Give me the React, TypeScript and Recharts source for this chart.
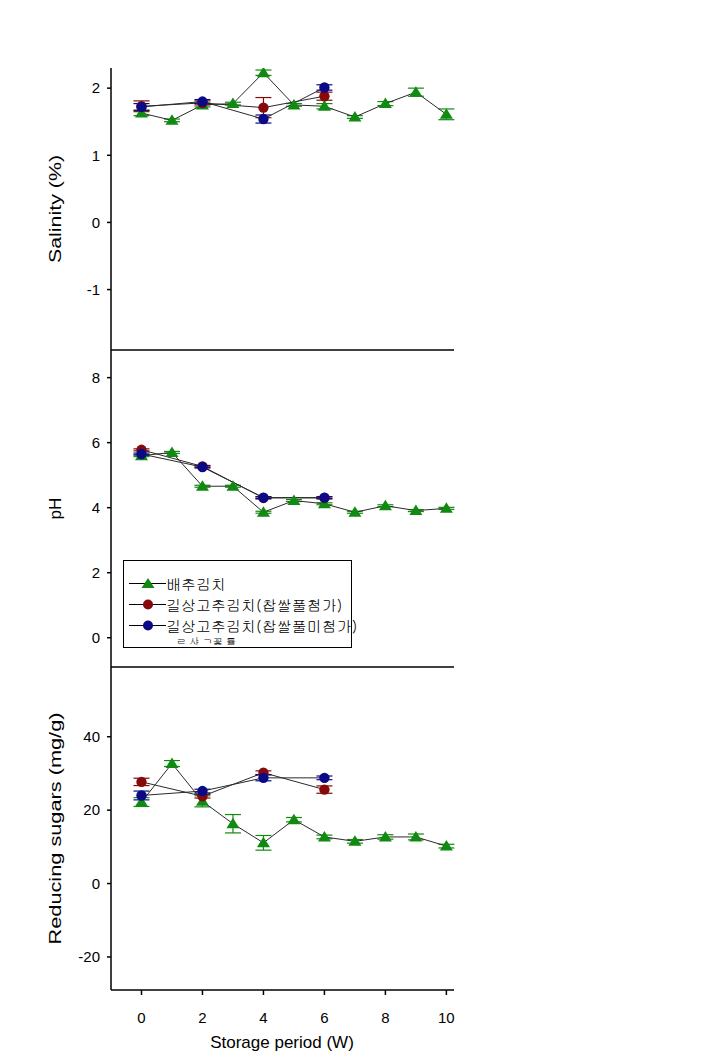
import { ErrorBar, Legend, Line, LineChart, XAxis, YAxis } from "recharts"

// storage weeks
const weeks = [0, 1, 2, 3, 4, 5, 6, 7, 8, 9, 10]
const weeksShort = [0, 2, 4, 6]
const xTicks = [0, 2, 4, 6, 8, 10]

const seriesNames = ["배추김치", "길상고추김치(찹쌀풀첨가)", "길상고추김치(찹쌀풀미첨가)"]
const seriesColors = ["#108a10", "#860a0a", "#0a0a86"]

// Salinity (%)
const salCabbage = [1.63, 1.52, 1.75, 1.77, 2.23, 1.75, 1.73, 1.57, 1.77, 1.94, 1.61]
const salCabbageErr = [0.04, 0.02, 0.03, 0.02, 0.04, 0.02, 0.04, 0.02, 0.03, 0.06, 0.08]
const salWith = [1.73, 1.78, 1.71, 1.88]
const salWithErr = [0.08, 0.03, 0.15, 0.06]
const salWithout = [1.72, 1.8, 1.54, 2.01]
const salWithoutErr = [0.05, 0.03, 0.06, 0.04]
const salTicks = [-1, 0, 1, 2]

// pH
const phCabbage = [5.6, 5.7, 4.66, 4.66, 3.86, 4.22, 4.12, 3.86, 4.06, 3.91, 3.98]
const phCabbageErr = [0.03, 0.03, 0.03, 0.03, 0.03, 0.03, 0.03, 0.03, 0.03, 0.03, 0.03]
const phWith = [5.78, 5.27, 4.3, 4.3]
const phWithErr = [0.03, 0.03, 0.03, 0.03]
const phWithout = [5.65, 5.25, 4.31, 4.31]
const phWithoutErr = [0.03, 0.03, 0.03, 0.03]
const phTicks = [0, 2, 4, 6, 8]

// Reducing sugars (mg/g)
const sugCabbage = [22.2, 32.7, 22.4, 16.3, 11.1, 17.4, 12.7, 11.5, 12.7, 12.7, 10.2]
const sugCabbageErr = [1.2, 0.8, 1.5, 2.5, 2, 0.6, 0.5, 0.5, 0.6, 0.8, 0.5]
const sugWith = [27.7, 23.8, 30.2, 25.6]
const sugWithErr = [1, 0.5, 0.5, 1]
const sugWithout = [24.0, 25.2, 28.8, 28.8]
const sugWithoutErr = [1.2, 0.5, 0.8, 0.5]
const sugTicks = [-20, 0, 20, 40]

const font = "Arial, 'Liberation Sans', sans-serif"
const krFont = "Gulim, 'Noto Sans CJK KR', sans-serif"

const toRows = (xs: number[], ys: number[], es: number[]) =>
  xs.map((x, i) => ({ x, y: ys[i], e: es[i] }))

const triangleDot = (color: string) => (props: any) => {
  const { cx, cy } = props
  if (cx == null || cy == null) return <g key={`t-${props.index}`} />
  return (
    <polygon
      key={`t-${props.index}`}
      points={`${cx},${cy - 6} ${cx - 6.5},${cy + 4.5} ${cx + 6.5},${cy + 4.5}`}
      fill={color}
    />
  )
}

const circleDot = (color: string) => (props: any) => {
  const { cx, cy } = props
  if (cx == null || cy == null) return <g key={`c-${props.index}`} />
  return <circle key={`c-${props.index}`} cx={cx} cy={cy} r={5.2} fill={color} />
}

function VLabel({ x, y, text, len }: { x: number, y: number, text: string, len?: number }) {
  return (
    <text
      x={x}
      y={y}
      transform={`rotate(-90 ${x} ${y})`}
      textAnchor="middle"
      dominantBaseline="central"
      fontSize={17}
      fontFamily={font}
      fill="#000"
      textLength={len}
      lengthAdjust={len ? "spacingAndGlyphs" : undefined}
    >
      {text}
    </text>
  )
}

function XLabel() {
  return (
    <text x={282} y={381} textAnchor="middle" fontSize={17} fontFamily={font} fill="#000">
      Storage period (W)
    </text>
  )
}

function LegendBox() {
  return (
    <div
      style={{
        position: "relative",
        width: 229,
        height: 88,
        border: "1px solid #000",
        boxSizing: "border-box",
        background: "#fff",
        fontFamily: krFont,
        fontSize: 15,
      }}
    >
      {seriesNames.map((name, i) => (
        <div key={name} style={{ position: "absolute", left: 4, top: 13 + i * 21, height: 19, display: "flex", alignItems: "center" }}>
          <svg width={38} height={19}>
            <line x1={1} y1={9.5} x2={38} y2={9.5} stroke="#000" strokeWidth={1} />
            {i === 0 ? (
              <polygon points="20,4 13.5,14 26.5,14" fill={seriesColors[0]} />
            ) : (
              <circle cx={20} cy={9.5} r={5} fill={seriesColors[i]} />
            )}
          </svg>
          <span style={{ whiteSpace: "nowrap", lineHeight: "19px" }}>{name}</span>
        </div>
      ))}
      <div style={{ position: "absolute", left: 52, top: 75, fontSize: 10, lineHeight: "10px", whiteSpace: "nowrap", color: "#111" }}>
        ㄹ 샤 ㄱ꽃 률
      </div>
    </div>
  )
}

const tickStyle = { fill: "#000", fontSize: 15, fontFamily: font }
const axisStroke = { stroke: "#000", strokeWidth: 1.5 }

function Panel({
  height,
  marginTop,
  domain,
  ticks,
  cabbage,
  withRice,
  withoutRice,
  yLabel,
  bottom,
  legend,
}: {
  height: number
  marginTop: number
  domain: [number, number]
  ticks: number[]
  cabbage: any[]
  withRice: any[]
  withoutRice: any[]
  yLabel: any
  bottom?: boolean
  legend?: boolean
}) {
  return (
    <LineChart width={727} height={height} margin={{ top: marginTop, right: 273, bottom: 0, left: 0 }}>
      <XAxis
        type="number"
        dataKey="x"
        domain={[-1, 10.25]}
        ticks={xTicks}
        allowDataOverflow
        height={bottom ? 72 : 1}
        tick={bottom ? tickStyle : false}
        tickLine={bottom ? axisStroke : false}
        axisLine={axisStroke}
        tickSize={5}
        tickMargin={17}
        label={bottom ? <XLabel /> : undefined}
      />
      <YAxis
        type="number"
        domain={domain}
        ticks={ticks}
        allowDataOverflow
        width={111}
        tick={tickStyle}
        tickLine={axisStroke}
        axisLine={axisStroke}
        tickSize={4}
        tickMargin={7}
        label={yLabel}
      />
      {legend && (
        <Legend
          layout="horizontal"
          verticalAlign="middle"
          align="center"
          content={() => <LegendBox />}
          wrapperStyle={{ position: "absolute", left: 123, top: 210, width: 229, height: 88 }}
        />
      )}
      <Line
        data={cabbage}
        dataKey="y"
        name={seriesNames[0]}
        stroke="#2a2a2a"
        strokeWidth={1}
        dot={triangleDot(seriesColors[0])}
        activeDot={false}
        isAnimationActive={false}
      >
        <ErrorBar dataKey="e" width={8} stroke={seriesColors[0]} strokeWidth={1.2} isAnimationActive={false} />
      </Line>
      <Line
        data={withRice}
        dataKey="y"
        name={seriesNames[1]}
        stroke="#2a2a2a"
        strokeWidth={1}
        dot={circleDot(seriesColors[1])}
        activeDot={false}
        isAnimationActive={false}
      >
        <ErrorBar dataKey="e" width={8} stroke={seriesColors[1]} strokeWidth={1.2} isAnimationActive={false} />
      </Line>
      <Line
        data={withoutRice}
        dataKey="y"
        name={seriesNames[2]}
        stroke="#2a2a2a"
        strokeWidth={1}
        dot={circleDot(seriesColors[2])}
        activeDot={false}
        isAnimationActive={false}
      >
        <ErrorBar dataKey="e" width={8} stroke={seriesColors[2]} strokeWidth={1.2} isAnimationActive={false} />
      </Line>
    </LineChart>
  )
}

export default function App() {
  return (
    <div style={{ position: "absolute", left: 0, top: 0, width: 727, height: 1062, background: "#fff" }}>
      <div style={{ position: "absolute", left: 0, top: 0 }}>
        <Panel
          height={351}
          marginTop={68}
          domain={[-1.9, 2.3]}
          ticks={salTicks}
          cabbage={toRows(weeks, salCabbage, salCabbageErr)}
          withRice={toRows(weeksShort, salWith, salWithErr)}
          withoutRice={toRows(weeksShort, salWithout, salWithoutErr)}
          yLabel={<VLabel x={75} y={194} text="Salinity (%)" len={108} />}
        />
      </div>
      <div style={{ position: "absolute", left: 0, top: 350 }}>
        <Panel
          height={318}
          marginTop={0}
          domain={[-0.9, 8.85]}
          ticks={phTicks}
          cabbage={toRows(weeks, phCabbage, phCabbageErr)}
          withRice={toRows(weeksShort, phWith, phWithErr)}
          withoutRice={toRows(weeksShort, phWithout, phWithoutErr)}
          yLabel={<VLabel x={101} y={156} text="pH" />}
          legend
        />
      </div>
      <div style={{ position: "absolute", left: 0, top: 667 }}>
        <Panel
          height={395}
          marginTop={0}
          domain={[-29, 59]}
          ticks={sugTicks}
          cabbage={toRows(weeks, sugCabbage, sugCabbageErr)}
          withRice={toRows(weeksShort, sugWith, sugWithErr)}
          withoutRice={toRows(weeksShort, sugWithout, sugWithoutErr)}
          yLabel={<VLabel x={75} y={182} text="Reducing sugars (mg/g)" len={232} />}
          bottom
        />
      </div>
    </div>
  )
}
